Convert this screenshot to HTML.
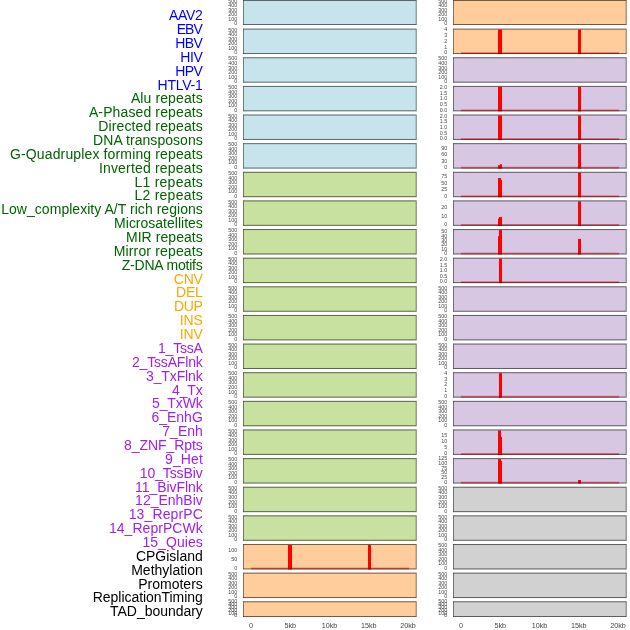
<!DOCTYPE html><html><head><meta charset="utf-8"><style>html,body{margin:0;padding:0;background:#fff;overflow:hidden}svg{display:block;will-change:transform}.lb{font-family:"Liberation Sans",Arial,sans-serif;font-size:14px;text-anchor:end}.tk{font-family:"Liberation Sans",Arial,sans-serif;font-size:5.4px;text-anchor:end;fill:#4a4a4a}.ax{font-family:"Liberation Sans",Arial,sans-serif;font-size:7.2px;text-anchor:middle;fill:#444}</style></head><body>
<svg width="630" height="630" viewBox="0 0 630 630">
<text class="lb" x="202.8" y="20" fill="#0000ff" textLength="33.80">AAV2</text>
<text class="lb" x="202.8" y="34" fill="#0000ff" textLength="26.10">EBV</text>
<text class="lb" x="202.8" y="48" fill="#0000ff" textLength="27.60">HBV</text>
<text class="lb" x="202.8" y="62" fill="#0000ff" textLength="22.50">HIV</text>
<text class="lb" x="202.8" y="76" fill="#0000ff" textLength="27.60">HPV</text>
<text class="lb" x="202.8" y="90" fill="#0000ff" textLength="45.30">HTLV-1</text>
<text class="lb" x="202.8" y="103" fill="#006400" textLength="71.90">Alu repeats</text>
<text class="lb" x="202.8" y="117" fill="#006400" textLength="113.90">A-Phased repeats</text>
<text class="lb" x="202.8" y="131" fill="#006400" textLength="104.60">Directed repeats</text>
<text class="lb" x="202.8" y="145" fill="#006400" textLength="109.70">DNA transposons</text>
<text class="lb" x="202.8" y="159" fill="#006400" textLength="192.80">G-Quadruplex forming repeats</text>
<text class="lb" x="202.8" y="173" fill="#006400" textLength="103.90">Inverted repeats</text>
<text class="lb" x="202.8" y="187" fill="#006400" textLength="68.30">L1 repeats</text>
<text class="lb" x="202.8" y="200" fill="#006400" textLength="68.30">L2 repeats</text>
<text class="lb" x="202.8" y="214" fill="#006400" textLength="201.60">Low_complexity A/T rich regions</text>
<text class="lb" x="202.8" y="228" fill="#006400" textLength="88.70">Microsatellites</text>
<text class="lb" x="202.8" y="242" fill="#006400" textLength="76.90">MIR repeats</text>
<text class="lb" x="202.8" y="256" fill="#006400" textLength="89.10">Mirror repeats</text>
<text class="lb" x="202.8" y="270" fill="#006400" textLength="81.10">Z-DNA motifs</text>
<text class="lb" x="202.8" y="284" fill="#ffa500" textLength="29.00">CNV</text>
<text class="lb" x="202.8" y="297" fill="#ffa500" textLength="26.80">DEL</text>
<text class="lb" x="202.8" y="311" fill="#ffa500" textLength="28.80">DUP</text>
<text class="lb" x="202.8" y="325" fill="#ffa500" textLength="23.00">INS</text>
<text class="lb" x="202.8" y="339" fill="#ffa500" textLength="23.00">INV</text>
<text class="lb" x="202.8" y="353" fill="#a020f0" textLength="44.80">1_TssA</text>
<text class="lb" x="202.8" y="367" fill="#a020f0" textLength="70.80">2_TssAFlnk</text>
<text class="lb" x="202.8" y="381" fill="#a020f0" textLength="56.80">3_TxFlnk</text>
<text class="lb" x="202.8" y="395" fill="#a020f0" textLength="30.80">4_Tx</text>
<text class="lb" x="202.8" y="408" fill="#a020f0" textLength="50.80">5_TxWk</text>
<text class="lb" x="202.8" y="422" fill="#a020f0" textLength="51.40">6_EnhG</text>
<text class="lb" x="202.8" y="436" fill="#a020f0" textLength="40.50">7_Enh</text>
<text class="lb" x="202.8" y="450" fill="#a020f0" textLength="78.80">8_ZNF_Rpts</text>
<text class="lb" x="202.8" y="464" fill="#a020f0" textLength="37.70">9_Het</text>
<text class="lb" x="202.8" y="478" fill="#a020f0" textLength="63.10">10_TssBiv</text>
<text class="lb" x="202.8" y="492" fill="#a020f0" textLength="67.80">11_BivFlnk</text>
<text class="lb" x="202.8" y="505" fill="#a020f0" textLength="67.70">12_EnhBiv</text>
<text class="lb" x="202.8" y="519" fill="#a020f0" textLength="74.10">13_ReprPC</text>
<text class="lb" x="202.8" y="533" fill="#a020f0" textLength="93.90">14_ReprPCWk</text>
<text class="lb" x="202.8" y="547" fill="#a020f0" textLength="60.40">15_Quies</text>
<text class="lb" x="202.8" y="561" fill="#000000" textLength="66.90">CPGisland</text>
<text class="lb" x="202.8" y="575" fill="#000000" textLength="71.60">Methylation</text>
<text class="lb" x="202.8" y="589" fill="#000000" textLength="64.60">Promoters</text>
<text class="lb" x="202.8" y="602" fill="#000000" textLength="110.00">ReplicationTiming</text>
<text class="lb" x="202.8" y="616" fill="#000000" textLength="92.70">TAD_boundary</text>
<rect x="243" y="0.00" width="173.7" height="25.00" fill="rgb(199,228,236)"/>
<rect x="243" y="0.00" width="173.7" height="1" fill="#000" fill-opacity="0.55"/>
<rect x="243" y="24.00" width="173.7" height="1" fill="#000" fill-opacity="0.55"/>
<rect x="243" y="1.00" width="1" height="23.00" fill="#000" fill-opacity="0.45"/>
<rect x="415.7" y="1.00" width="1" height="23.00" fill="#000" fill-opacity="0.45"/>
<rect x="243" y="0.00" width="1" height="1" fill="#000" fill-opacity="0.25"/>
<rect x="243" y="24.00" width="1" height="1" fill="#000" fill-opacity="0.25"/>
<text class="tk" x="237.2" y="25.40">0</text>
<text class="tk" x="237.2" y="20.88">100</text>
<text class="tk" x="237.2" y="16.36">200</text>
<text class="tk" x="237.2" y="11.84">300</text>
<text class="tk" x="237.2" y="7.32">400</text>
<text class="tk" x="237.2" y="2.80">500</text>
<rect x="243" y="28.63" width="173.7" height="25.40" fill="rgb(199,228,236)"/>
<rect x="243" y="28.63" width="173.7" height="1" fill="#000" fill-opacity="0.55"/>
<rect x="243" y="53.03" width="173.7" height="1" fill="#000" fill-opacity="0.55"/>
<rect x="243" y="29.63" width="1" height="23.40" fill="#000" fill-opacity="0.45"/>
<rect x="415.7" y="29.63" width="1" height="23.40" fill="#000" fill-opacity="0.45"/>
<rect x="243" y="28.63" width="1" height="1" fill="#000" fill-opacity="0.25"/>
<rect x="243" y="53.03" width="1" height="1" fill="#000" fill-opacity="0.25"/>
<text class="tk" x="237.2" y="54.43">0</text>
<text class="tk" x="237.2" y="49.91">100</text>
<text class="tk" x="237.2" y="45.39">200</text>
<text class="tk" x="237.2" y="40.87">300</text>
<text class="tk" x="237.2" y="36.35">400</text>
<text class="tk" x="237.2" y="31.83">500</text>
<rect x="243" y="57.26" width="173.7" height="25.40" fill="rgb(199,228,236)"/>
<rect x="243" y="57.26" width="173.7" height="1" fill="#000" fill-opacity="0.55"/>
<rect x="243" y="81.66" width="173.7" height="1" fill="#000" fill-opacity="0.55"/>
<rect x="243" y="58.26" width="1" height="23.40" fill="#000" fill-opacity="0.45"/>
<rect x="415.7" y="58.26" width="1" height="23.40" fill="#000" fill-opacity="0.45"/>
<rect x="243" y="57.26" width="1" height="1" fill="#000" fill-opacity="0.25"/>
<rect x="243" y="81.66" width="1" height="1" fill="#000" fill-opacity="0.25"/>
<text class="tk" x="237.2" y="83.06">0</text>
<text class="tk" x="237.2" y="78.54">100</text>
<text class="tk" x="237.2" y="74.02">200</text>
<text class="tk" x="237.2" y="69.50">300</text>
<text class="tk" x="237.2" y="64.98">400</text>
<text class="tk" x="237.2" y="60.46">500</text>
<rect x="243" y="85.90" width="173.7" height="25.40" fill="rgb(199,228,236)"/>
<rect x="243" y="85.90" width="173.7" height="1" fill="#000" fill-opacity="0.55"/>
<rect x="243" y="110.30" width="173.7" height="1" fill="#000" fill-opacity="0.55"/>
<rect x="243" y="86.90" width="1" height="23.40" fill="#000" fill-opacity="0.45"/>
<rect x="415.7" y="86.90" width="1" height="23.40" fill="#000" fill-opacity="0.45"/>
<rect x="243" y="85.90" width="1" height="1" fill="#000" fill-opacity="0.25"/>
<rect x="243" y="110.30" width="1" height="1" fill="#000" fill-opacity="0.25"/>
<text class="tk" x="237.2" y="111.70">0</text>
<text class="tk" x="237.2" y="107.18">100</text>
<text class="tk" x="237.2" y="102.66">200</text>
<text class="tk" x="237.2" y="98.14">300</text>
<text class="tk" x="237.2" y="93.62">400</text>
<text class="tk" x="237.2" y="89.10">500</text>
<rect x="243" y="114.53" width="173.7" height="25.40" fill="rgb(199,228,236)"/>
<rect x="243" y="114.53" width="173.7" height="1" fill="#000" fill-opacity="0.55"/>
<rect x="243" y="138.93" width="173.7" height="1" fill="#000" fill-opacity="0.55"/>
<rect x="243" y="115.53" width="1" height="23.40" fill="#000" fill-opacity="0.45"/>
<rect x="415.7" y="115.53" width="1" height="23.40" fill="#000" fill-opacity="0.45"/>
<rect x="243" y="114.53" width="1" height="1" fill="#000" fill-opacity="0.25"/>
<rect x="243" y="138.93" width="1" height="1" fill="#000" fill-opacity="0.25"/>
<text class="tk" x="237.2" y="140.33">0</text>
<text class="tk" x="237.2" y="135.81">100</text>
<text class="tk" x="237.2" y="131.29">200</text>
<text class="tk" x="237.2" y="126.77">300</text>
<text class="tk" x="237.2" y="122.25">400</text>
<text class="tk" x="237.2" y="117.73">500</text>
<rect x="243" y="143.16" width="173.7" height="25.40" fill="rgb(199,228,236)"/>
<rect x="243" y="143.16" width="173.7" height="1" fill="#000" fill-opacity="0.55"/>
<rect x="243" y="167.56" width="173.7" height="1" fill="#000" fill-opacity="0.55"/>
<rect x="243" y="144.16" width="1" height="23.40" fill="#000" fill-opacity="0.45"/>
<rect x="415.7" y="144.16" width="1" height="23.40" fill="#000" fill-opacity="0.45"/>
<rect x="243" y="143.16" width="1" height="1" fill="#000" fill-opacity="0.25"/>
<rect x="243" y="167.56" width="1" height="1" fill="#000" fill-opacity="0.25"/>
<text class="tk" x="237.2" y="168.96">0</text>
<text class="tk" x="237.2" y="164.44">100</text>
<text class="tk" x="237.2" y="159.92">200</text>
<text class="tk" x="237.2" y="155.40">300</text>
<text class="tk" x="237.2" y="150.88">400</text>
<text class="tk" x="237.2" y="146.36">500</text>
<rect x="243" y="171.79" width="173.7" height="25.40" fill="rgb(200,225,161)"/>
<rect x="243" y="171.79" width="173.7" height="1" fill="#000" fill-opacity="0.55"/>
<rect x="243" y="196.19" width="173.7" height="1" fill="#000" fill-opacity="0.55"/>
<rect x="243" y="172.79" width="1" height="23.40" fill="#000" fill-opacity="0.45"/>
<rect x="415.7" y="172.79" width="1" height="23.40" fill="#000" fill-opacity="0.45"/>
<rect x="243" y="171.79" width="1" height="1" fill="#000" fill-opacity="0.25"/>
<rect x="243" y="196.19" width="1" height="1" fill="#000" fill-opacity="0.25"/>
<text class="tk" x="237.2" y="197.59">0</text>
<text class="tk" x="237.2" y="193.07">100</text>
<text class="tk" x="237.2" y="188.55">200</text>
<text class="tk" x="237.2" y="184.03">300</text>
<text class="tk" x="237.2" y="179.51">400</text>
<text class="tk" x="237.2" y="174.99">500</text>
<rect x="243" y="200.42" width="173.7" height="25.40" fill="rgb(200,225,161)"/>
<rect x="243" y="200.42" width="173.7" height="1" fill="#000" fill-opacity="0.55"/>
<rect x="243" y="224.82" width="173.7" height="1" fill="#000" fill-opacity="0.55"/>
<rect x="243" y="201.42" width="1" height="23.40" fill="#000" fill-opacity="0.45"/>
<rect x="415.7" y="201.42" width="1" height="23.40" fill="#000" fill-opacity="0.45"/>
<rect x="243" y="200.42" width="1" height="1" fill="#000" fill-opacity="0.25"/>
<rect x="243" y="224.82" width="1" height="1" fill="#000" fill-opacity="0.25"/>
<text class="tk" x="237.2" y="226.22">0</text>
<text class="tk" x="237.2" y="221.70">100</text>
<text class="tk" x="237.2" y="217.18">200</text>
<text class="tk" x="237.2" y="212.66">300</text>
<text class="tk" x="237.2" y="208.14">400</text>
<text class="tk" x="237.2" y="203.62">500</text>
<rect x="243" y="229.06" width="173.7" height="25.40" fill="rgb(200,225,161)"/>
<rect x="243" y="229.06" width="173.7" height="1" fill="#000" fill-opacity="0.55"/>
<rect x="243" y="253.46" width="173.7" height="1" fill="#000" fill-opacity="0.55"/>
<rect x="243" y="230.06" width="1" height="23.40" fill="#000" fill-opacity="0.45"/>
<rect x="415.7" y="230.06" width="1" height="23.40" fill="#000" fill-opacity="0.45"/>
<rect x="243" y="229.06" width="1" height="1" fill="#000" fill-opacity="0.25"/>
<rect x="243" y="253.46" width="1" height="1" fill="#000" fill-opacity="0.25"/>
<text class="tk" x="237.2" y="254.86">0</text>
<text class="tk" x="237.2" y="250.34">100</text>
<text class="tk" x="237.2" y="245.82">200</text>
<text class="tk" x="237.2" y="241.30">300</text>
<text class="tk" x="237.2" y="236.78">400</text>
<text class="tk" x="237.2" y="232.26">500</text>
<rect x="243" y="257.69" width="173.7" height="25.40" fill="rgb(200,225,161)"/>
<rect x="243" y="257.69" width="173.7" height="1" fill="#000" fill-opacity="0.55"/>
<rect x="243" y="282.09" width="173.7" height="1" fill="#000" fill-opacity="0.55"/>
<rect x="243" y="258.69" width="1" height="23.40" fill="#000" fill-opacity="0.45"/>
<rect x="415.7" y="258.69" width="1" height="23.40" fill="#000" fill-opacity="0.45"/>
<rect x="243" y="257.69" width="1" height="1" fill="#000" fill-opacity="0.25"/>
<rect x="243" y="282.09" width="1" height="1" fill="#000" fill-opacity="0.25"/>
<text class="tk" x="237.2" y="283.49">0</text>
<text class="tk" x="237.2" y="278.97">100</text>
<text class="tk" x="237.2" y="274.45">200</text>
<text class="tk" x="237.2" y="269.93">300</text>
<text class="tk" x="237.2" y="265.41">400</text>
<text class="tk" x="237.2" y="260.89">500</text>
<rect x="243" y="286.32" width="173.7" height="25.40" fill="rgb(200,225,161)"/>
<rect x="243" y="286.32" width="173.7" height="1" fill="#000" fill-opacity="0.55"/>
<rect x="243" y="310.72" width="173.7" height="1" fill="#000" fill-opacity="0.55"/>
<rect x="243" y="287.32" width="1" height="23.40" fill="#000" fill-opacity="0.45"/>
<rect x="415.7" y="287.32" width="1" height="23.40" fill="#000" fill-opacity="0.45"/>
<rect x="243" y="286.32" width="1" height="1" fill="#000" fill-opacity="0.25"/>
<rect x="243" y="310.72" width="1" height="1" fill="#000" fill-opacity="0.25"/>
<text class="tk" x="237.2" y="312.12">0</text>
<text class="tk" x="237.2" y="307.60">100</text>
<text class="tk" x="237.2" y="303.08">200</text>
<text class="tk" x="237.2" y="298.56">300</text>
<text class="tk" x="237.2" y="294.04">400</text>
<text class="tk" x="237.2" y="289.52">500</text>
<rect x="243" y="314.95" width="173.7" height="25.40" fill="rgb(200,225,161)"/>
<rect x="243" y="314.95" width="173.7" height="1" fill="#000" fill-opacity="0.55"/>
<rect x="243" y="339.35" width="173.7" height="1" fill="#000" fill-opacity="0.55"/>
<rect x="243" y="315.95" width="1" height="23.40" fill="#000" fill-opacity="0.45"/>
<rect x="415.7" y="315.95" width="1" height="23.40" fill="#000" fill-opacity="0.45"/>
<rect x="243" y="314.95" width="1" height="1" fill="#000" fill-opacity="0.25"/>
<rect x="243" y="339.35" width="1" height="1" fill="#000" fill-opacity="0.25"/>
<text class="tk" x="237.2" y="340.75">0</text>
<text class="tk" x="237.2" y="336.23">100</text>
<text class="tk" x="237.2" y="331.71">200</text>
<text class="tk" x="237.2" y="327.19">300</text>
<text class="tk" x="237.2" y="322.67">400</text>
<text class="tk" x="237.2" y="318.15">500</text>
<rect x="243" y="343.58" width="173.7" height="25.40" fill="rgb(200,225,161)"/>
<rect x="243" y="343.58" width="173.7" height="1" fill="#000" fill-opacity="0.55"/>
<rect x="243" y="367.98" width="173.7" height="1" fill="#000" fill-opacity="0.55"/>
<rect x="243" y="344.58" width="1" height="23.40" fill="#000" fill-opacity="0.45"/>
<rect x="415.7" y="344.58" width="1" height="23.40" fill="#000" fill-opacity="0.45"/>
<rect x="243" y="343.58" width="1" height="1" fill="#000" fill-opacity="0.25"/>
<rect x="243" y="367.98" width="1" height="1" fill="#000" fill-opacity="0.25"/>
<text class="tk" x="237.2" y="369.38">0</text>
<text class="tk" x="237.2" y="364.86">100</text>
<text class="tk" x="237.2" y="360.34">200</text>
<text class="tk" x="237.2" y="355.82">300</text>
<text class="tk" x="237.2" y="351.30">400</text>
<text class="tk" x="237.2" y="346.78">500</text>
<rect x="243" y="372.22" width="173.7" height="25.40" fill="rgb(200,225,161)"/>
<rect x="243" y="372.22" width="173.7" height="1" fill="#000" fill-opacity="0.55"/>
<rect x="243" y="396.62" width="173.7" height="1" fill="#000" fill-opacity="0.55"/>
<rect x="243" y="373.22" width="1" height="23.40" fill="#000" fill-opacity="0.45"/>
<rect x="415.7" y="373.22" width="1" height="23.40" fill="#000" fill-opacity="0.45"/>
<rect x="243" y="372.22" width="1" height="1" fill="#000" fill-opacity="0.25"/>
<rect x="243" y="396.62" width="1" height="1" fill="#000" fill-opacity="0.25"/>
<text class="tk" x="237.2" y="398.02">0</text>
<text class="tk" x="237.2" y="393.50">100</text>
<text class="tk" x="237.2" y="388.98">200</text>
<text class="tk" x="237.2" y="384.46">300</text>
<text class="tk" x="237.2" y="379.94">400</text>
<text class="tk" x="237.2" y="375.42">500</text>
<rect x="243" y="400.85" width="173.7" height="25.40" fill="rgb(200,225,161)"/>
<rect x="243" y="400.85" width="173.7" height="1" fill="#000" fill-opacity="0.55"/>
<rect x="243" y="425.25" width="173.7" height="1" fill="#000" fill-opacity="0.55"/>
<rect x="243" y="401.85" width="1" height="23.40" fill="#000" fill-opacity="0.45"/>
<rect x="415.7" y="401.85" width="1" height="23.40" fill="#000" fill-opacity="0.45"/>
<rect x="243" y="400.85" width="1" height="1" fill="#000" fill-opacity="0.25"/>
<rect x="243" y="425.25" width="1" height="1" fill="#000" fill-opacity="0.25"/>
<text class="tk" x="237.2" y="426.65">0</text>
<text class="tk" x="237.2" y="422.13">100</text>
<text class="tk" x="237.2" y="417.61">200</text>
<text class="tk" x="237.2" y="413.09">300</text>
<text class="tk" x="237.2" y="408.57">400</text>
<text class="tk" x="237.2" y="404.05">500</text>
<rect x="243" y="429.48" width="173.7" height="25.40" fill="rgb(200,225,161)"/>
<rect x="243" y="429.48" width="173.7" height="1" fill="#000" fill-opacity="0.55"/>
<rect x="243" y="453.88" width="173.7" height="1" fill="#000" fill-opacity="0.55"/>
<rect x="243" y="430.48" width="1" height="23.40" fill="#000" fill-opacity="0.45"/>
<rect x="415.7" y="430.48" width="1" height="23.40" fill="#000" fill-opacity="0.45"/>
<rect x="243" y="429.48" width="1" height="1" fill="#000" fill-opacity="0.25"/>
<rect x="243" y="453.88" width="1" height="1" fill="#000" fill-opacity="0.25"/>
<text class="tk" x="237.2" y="455.28">0</text>
<text class="tk" x="237.2" y="450.76">100</text>
<text class="tk" x="237.2" y="446.24">200</text>
<text class="tk" x="237.2" y="441.72">300</text>
<text class="tk" x="237.2" y="437.20">400</text>
<text class="tk" x="237.2" y="432.68">500</text>
<rect x="243" y="458.11" width="173.7" height="25.40" fill="rgb(200,225,161)"/>
<rect x="243" y="458.11" width="173.7" height="1" fill="#000" fill-opacity="0.55"/>
<rect x="243" y="482.51" width="173.7" height="1" fill="#000" fill-opacity="0.55"/>
<rect x="243" y="459.11" width="1" height="23.40" fill="#000" fill-opacity="0.45"/>
<rect x="415.7" y="459.11" width="1" height="23.40" fill="#000" fill-opacity="0.45"/>
<rect x="243" y="458.11" width="1" height="1" fill="#000" fill-opacity="0.25"/>
<rect x="243" y="482.51" width="1" height="1" fill="#000" fill-opacity="0.25"/>
<text class="tk" x="237.2" y="483.91">0</text>
<text class="tk" x="237.2" y="479.39">100</text>
<text class="tk" x="237.2" y="474.87">200</text>
<text class="tk" x="237.2" y="470.35">300</text>
<text class="tk" x="237.2" y="465.83">400</text>
<text class="tk" x="237.2" y="461.31">500</text>
<rect x="243" y="486.74" width="173.7" height="25.40" fill="rgb(200,225,161)"/>
<rect x="243" y="486.74" width="173.7" height="1" fill="#000" fill-opacity="0.55"/>
<rect x="243" y="511.14" width="173.7" height="1" fill="#000" fill-opacity="0.55"/>
<rect x="243" y="487.74" width="1" height="23.40" fill="#000" fill-opacity="0.45"/>
<rect x="415.7" y="487.74" width="1" height="23.40" fill="#000" fill-opacity="0.45"/>
<rect x="243" y="486.74" width="1" height="1" fill="#000" fill-opacity="0.25"/>
<rect x="243" y="511.14" width="1" height="1" fill="#000" fill-opacity="0.25"/>
<text class="tk" x="237.2" y="512.54">0</text>
<text class="tk" x="237.2" y="508.02">100</text>
<text class="tk" x="237.2" y="503.50">200</text>
<text class="tk" x="237.2" y="498.98">300</text>
<text class="tk" x="237.2" y="494.46">400</text>
<text class="tk" x="237.2" y="489.94">500</text>
<rect x="243" y="515.38" width="173.7" height="25.40" fill="rgb(200,225,161)"/>
<rect x="243" y="515.38" width="173.7" height="1" fill="#000" fill-opacity="0.55"/>
<rect x="243" y="539.78" width="173.7" height="1" fill="#000" fill-opacity="0.55"/>
<rect x="243" y="516.38" width="1" height="23.40" fill="#000" fill-opacity="0.45"/>
<rect x="415.7" y="516.38" width="1" height="23.40" fill="#000" fill-opacity="0.45"/>
<rect x="243" y="515.38" width="1" height="1" fill="#000" fill-opacity="0.25"/>
<rect x="243" y="539.78" width="1" height="1" fill="#000" fill-opacity="0.25"/>
<text class="tk" x="237.2" y="541.18">0</text>
<text class="tk" x="237.2" y="536.66">100</text>
<text class="tk" x="237.2" y="532.14">200</text>
<text class="tk" x="237.2" y="527.62">300</text>
<text class="tk" x="237.2" y="523.10">400</text>
<text class="tk" x="237.2" y="518.58">500</text>
<rect x="243" y="544.01" width="173.7" height="25.40" fill="rgb(254,205,155)"/>
<rect x="288" y="545.01" width="4" height="24.40" fill="#ff0000"/>
<rect x="368" y="545.01" width="3" height="24.40" fill="#ff0000"/>
<rect x="251" y="567.61" width="158" height="1.8" fill="#ff0000" fill-opacity="0.5"/>
<rect x="243" y="544.01" width="173.7" height="1" fill="#000" fill-opacity="0.55"/>
<rect x="243" y="568.41" width="173.7" height="1" fill="#000" fill-opacity="0.55"/>
<rect x="243" y="545.01" width="1" height="23.40" fill="#000" fill-opacity="0.45"/>
<rect x="415.7" y="545.01" width="1" height="23.40" fill="#000" fill-opacity="0.45"/>
<rect x="243" y="544.01" width="1" height="1" fill="#000" fill-opacity="0.25"/>
<rect x="243" y="568.41" width="1" height="1" fill="#000" fill-opacity="0.25"/>
<text class="tk" x="237.2" y="569.81">0</text>
<text class="tk" x="237.2" y="560.96">50</text>
<text class="tk" x="237.2" y="552.11">100</text>
<rect x="243" y="572.64" width="173.7" height="25.40" fill="rgb(254,205,155)"/>
<rect x="243" y="572.64" width="173.7" height="1" fill="#000" fill-opacity="0.55"/>
<rect x="243" y="597.04" width="173.7" height="1" fill="#000" fill-opacity="0.55"/>
<rect x="243" y="573.64" width="1" height="23.40" fill="#000" fill-opacity="0.45"/>
<rect x="415.7" y="573.64" width="1" height="23.40" fill="#000" fill-opacity="0.45"/>
<rect x="243" y="572.64" width="1" height="1" fill="#000" fill-opacity="0.25"/>
<rect x="243" y="597.04" width="1" height="1" fill="#000" fill-opacity="0.25"/>
<text class="tk" x="237.2" y="598.44">0</text>
<text class="tk" x="237.2" y="593.92">100</text>
<text class="tk" x="237.2" y="589.40">200</text>
<text class="tk" x="237.2" y="584.88">300</text>
<text class="tk" x="237.2" y="580.36">400</text>
<text class="tk" x="237.2" y="575.84">500</text>
<rect x="243" y="601.27" width="173.7" height="15.73" fill="rgb(254,205,155)"/>
<rect x="243" y="601.27" width="173.7" height="1" fill="#000" fill-opacity="0.55"/>
<rect x="243" y="616.00" width="173.7" height="1" fill="#000" fill-opacity="0.55"/>
<rect x="243" y="602.27" width="1" height="13.73" fill="#000" fill-opacity="0.45"/>
<rect x="415.7" y="602.27" width="1" height="13.73" fill="#000" fill-opacity="0.45"/>
<rect x="243" y="601.27" width="1" height="1" fill="#000" fill-opacity="0.25"/>
<rect x="243" y="616.00" width="1" height="1" fill="#000" fill-opacity="0.25"/>
<text class="tk" x="237.2" y="617.40">0</text>
<text class="tk" x="237.2" y="614.50">100</text>
<text class="tk" x="237.2" y="611.60">200</text>
<text class="tk" x="237.2" y="608.70">300</text>
<text class="tk" x="237.2" y="605.80">400</text>
<text class="tk" x="237.2" y="602.90">500</text>
<text class="ax" x="251.00" y="628">0</text>
<text class="ax" x="290.25" y="628">5kb</text>
<text class="ax" x="329.50" y="628">10kb</text>
<text class="ax" x="368.75" y="628">15kb</text>
<text class="ax" x="408.00" y="628">20kb</text>
<rect x="453" y="0.00" width="173.7" height="25.00" fill="rgb(254,205,155)"/>
<rect x="453" y="0.00" width="173.7" height="1" fill="#000" fill-opacity="0.55"/>
<rect x="453" y="24.00" width="173.7" height="1" fill="#000" fill-opacity="0.55"/>
<rect x="453" y="1.00" width="1" height="23.00" fill="#000" fill-opacity="0.45"/>
<rect x="625.7" y="1.00" width="1" height="23.00" fill="#000" fill-opacity="0.45"/>
<rect x="453" y="0.00" width="1" height="1" fill="#000" fill-opacity="0.25"/>
<rect x="453" y="24.00" width="1" height="1" fill="#000" fill-opacity="0.25"/>
<text class="tk" x="447.2" y="25.40">0</text>
<text class="tk" x="447.2" y="20.88">100</text>
<text class="tk" x="447.2" y="16.36">200</text>
<text class="tk" x="447.2" y="11.84">300</text>
<text class="tk" x="447.2" y="7.32">400</text>
<text class="tk" x="447.2" y="2.80">500</text>
<rect x="453" y="28.63" width="173.7" height="25.40" fill="rgb(254,205,155)"/>
<rect x="498" y="29.63" width="4" height="24.40" fill="#ff0000"/>
<rect x="578" y="29.63" width="3" height="24.40" fill="#ff0000"/>
<rect x="461" y="52.23" width="158" height="1.8" fill="#ff0000" fill-opacity="0.5"/>
<rect x="453" y="28.63" width="173.7" height="1" fill="#000" fill-opacity="0.55"/>
<rect x="453" y="53.03" width="173.7" height="1" fill="#000" fill-opacity="0.55"/>
<rect x="453" y="29.63" width="1" height="23.40" fill="#000" fill-opacity="0.45"/>
<rect x="625.7" y="29.63" width="1" height="23.40" fill="#000" fill-opacity="0.45"/>
<rect x="453" y="28.63" width="1" height="1" fill="#000" fill-opacity="0.25"/>
<rect x="453" y="53.03" width="1" height="1" fill="#000" fill-opacity="0.25"/>
<text class="tk" x="447.2" y="54.43">0</text>
<text class="tk" x="447.2" y="48.66">1</text>
<text class="tk" x="447.2" y="42.88">2</text>
<text class="tk" x="447.2" y="37.11">3</text>
<text class="tk" x="447.2" y="31.33">4</text>
<rect x="453" y="57.26" width="173.7" height="25.40" fill="rgb(215,199,226)"/>
<rect x="453" y="57.26" width="173.7" height="1" fill="#000" fill-opacity="0.55"/>
<rect x="453" y="81.66" width="173.7" height="1" fill="#000" fill-opacity="0.55"/>
<rect x="453" y="58.26" width="1" height="23.40" fill="#000" fill-opacity="0.45"/>
<rect x="625.7" y="58.26" width="1" height="23.40" fill="#000" fill-opacity="0.45"/>
<rect x="453" y="57.26" width="1" height="1" fill="#000" fill-opacity="0.25"/>
<rect x="453" y="81.66" width="1" height="1" fill="#000" fill-opacity="0.25"/>
<text class="tk" x="447.2" y="83.06">0</text>
<text class="tk" x="447.2" y="78.54">100</text>
<text class="tk" x="447.2" y="74.02">200</text>
<text class="tk" x="447.2" y="69.50">300</text>
<text class="tk" x="447.2" y="64.98">400</text>
<text class="tk" x="447.2" y="60.46">500</text>
<rect x="453" y="85.90" width="173.7" height="25.40" fill="rgb(215,199,226)"/>
<rect x="498" y="86.90" width="4" height="24.40" fill="#ff0000"/>
<rect x="578" y="86.90" width="3" height="24.40" fill="#ff0000"/>
<rect x="461" y="109.50" width="158" height="1.8" fill="#ff0000" fill-opacity="0.5"/>
<rect x="453" y="85.90" width="173.7" height="1" fill="#000" fill-opacity="0.55"/>
<rect x="453" y="110.30" width="173.7" height="1" fill="#000" fill-opacity="0.55"/>
<rect x="453" y="86.90" width="1" height="23.40" fill="#000" fill-opacity="0.45"/>
<rect x="625.7" y="86.90" width="1" height="23.40" fill="#000" fill-opacity="0.45"/>
<rect x="453" y="85.90" width="1" height="1" fill="#000" fill-opacity="0.25"/>
<rect x="453" y="110.30" width="1" height="1" fill="#000" fill-opacity="0.25"/>
<text class="tk" x="447.2" y="111.70">0.0</text>
<text class="tk" x="447.2" y="106.07">0.5</text>
<text class="tk" x="447.2" y="100.45">1.0</text>
<text class="tk" x="447.2" y="94.82">1.5</text>
<text class="tk" x="447.2" y="89.20">2.0</text>
<rect x="453" y="114.53" width="173.7" height="25.40" fill="rgb(215,199,226)"/>
<rect x="498" y="115.53" width="4" height="24.40" fill="#ff0000"/>
<rect x="578" y="115.53" width="3" height="24.40" fill="#ff0000"/>
<rect x="461" y="138.13" width="158" height="1.8" fill="#ff0000" fill-opacity="0.5"/>
<rect x="453" y="114.53" width="173.7" height="1" fill="#000" fill-opacity="0.55"/>
<rect x="453" y="138.93" width="173.7" height="1" fill="#000" fill-opacity="0.55"/>
<rect x="453" y="115.53" width="1" height="23.40" fill="#000" fill-opacity="0.45"/>
<rect x="625.7" y="115.53" width="1" height="23.40" fill="#000" fill-opacity="0.45"/>
<rect x="453" y="114.53" width="1" height="1" fill="#000" fill-opacity="0.25"/>
<rect x="453" y="138.93" width="1" height="1" fill="#000" fill-opacity="0.25"/>
<text class="tk" x="447.2" y="140.33">0.0</text>
<text class="tk" x="447.2" y="134.70">0.5</text>
<text class="tk" x="447.2" y="129.08">1.0</text>
<text class="tk" x="447.2" y="123.45">1.5</text>
<text class="tk" x="447.2" y="117.83">2.0</text>
<rect x="453" y="143.16" width="173.7" height="25.40" fill="rgb(215,199,226)"/>
<rect x="498" y="165.20" width="2" height="3.36" fill="#ff0000"/>
<rect x="500" y="164.20" width="2" height="4.36" fill="#ff0000"/>
<rect x="578" y="144.16" width="3" height="24.40" fill="#ff0000"/>
<rect x="461" y="166.76" width="158" height="1.8" fill="#ff0000" fill-opacity="0.5"/>
<rect x="453" y="143.16" width="173.7" height="1" fill="#000" fill-opacity="0.55"/>
<rect x="453" y="167.56" width="173.7" height="1" fill="#000" fill-opacity="0.55"/>
<rect x="453" y="144.16" width="1" height="23.40" fill="#000" fill-opacity="0.45"/>
<rect x="625.7" y="144.16" width="1" height="23.40" fill="#000" fill-opacity="0.45"/>
<rect x="453" y="143.16" width="1" height="1" fill="#000" fill-opacity="0.25"/>
<rect x="453" y="167.56" width="1" height="1" fill="#000" fill-opacity="0.25"/>
<text class="tk" x="447.2" y="168.96">0</text>
<text class="tk" x="447.2" y="162.63">30</text>
<text class="tk" x="447.2" y="156.29">60</text>
<text class="tk" x="447.2" y="149.96">90</text>
<rect x="453" y="171.79" width="173.7" height="25.40" fill="rgb(215,199,226)"/>
<rect x="498" y="178.00" width="3" height="19.19" fill="#ff0000"/>
<rect x="501" y="180.00" width="1" height="17.19" fill="#ff0000"/>
<rect x="578" y="172.79" width="3" height="24.40" fill="#ff0000"/>
<rect x="461" y="195.39" width="158" height="1.8" fill="#ff0000" fill-opacity="0.5"/>
<rect x="453" y="171.79" width="173.7" height="1" fill="#000" fill-opacity="0.55"/>
<rect x="453" y="196.19" width="173.7" height="1" fill="#000" fill-opacity="0.55"/>
<rect x="453" y="172.79" width="1" height="23.40" fill="#000" fill-opacity="0.45"/>
<rect x="625.7" y="172.79" width="1" height="23.40" fill="#000" fill-opacity="0.45"/>
<rect x="453" y="171.79" width="1" height="1" fill="#000" fill-opacity="0.25"/>
<rect x="453" y="196.19" width="1" height="1" fill="#000" fill-opacity="0.25"/>
<text class="tk" x="447.2" y="197.59">0</text>
<text class="tk" x="447.2" y="191.23">25</text>
<text class="tk" x="447.2" y="184.86">50</text>
<text class="tk" x="447.2" y="178.49">75</text>
<rect x="453" y="200.42" width="173.7" height="25.40" fill="rgb(215,199,226)"/>
<rect x="498" y="218.50" width="1" height="7.32" fill="#ff0000"/>
<rect x="499" y="217.00" width="3" height="8.82" fill="#ff0000"/>
<rect x="578" y="201.42" width="3" height="24.40" fill="#ff0000"/>
<rect x="461" y="224.02" width="158" height="1.8" fill="#ff0000" fill-opacity="0.5"/>
<rect x="453" y="200.42" width="173.7" height="1" fill="#000" fill-opacity="0.55"/>
<rect x="453" y="224.82" width="173.7" height="1" fill="#000" fill-opacity="0.55"/>
<rect x="453" y="201.42" width="1" height="23.40" fill="#000" fill-opacity="0.45"/>
<rect x="625.7" y="201.42" width="1" height="23.40" fill="#000" fill-opacity="0.45"/>
<rect x="453" y="200.42" width="1" height="1" fill="#000" fill-opacity="0.25"/>
<rect x="453" y="224.82" width="1" height="1" fill="#000" fill-opacity="0.25"/>
<text class="tk" x="447.2" y="226.22">0</text>
<text class="tk" x="447.2" y="217.72">10</text>
<text class="tk" x="447.2" y="209.22">20</text>
<rect x="453" y="229.06" width="173.7" height="25.40" fill="rgb(215,199,226)"/>
<rect x="498" y="236.20" width="1" height="18.26" fill="#ff0000"/>
<rect x="499" y="230.06" width="3" height="24.40" fill="#ff0000"/>
<rect x="578" y="238.90" width="3" height="15.56" fill="#ff0000"/>
<rect x="461" y="252.66" width="158" height="1.8" fill="#ff0000" fill-opacity="0.5"/>
<rect x="453" y="229.06" width="173.7" height="1" fill="#000" fill-opacity="0.55"/>
<rect x="453" y="253.46" width="173.7" height="1" fill="#000" fill-opacity="0.55"/>
<rect x="453" y="230.06" width="1" height="23.40" fill="#000" fill-opacity="0.45"/>
<rect x="625.7" y="230.06" width="1" height="23.40" fill="#000" fill-opacity="0.45"/>
<rect x="453" y="229.06" width="1" height="1" fill="#000" fill-opacity="0.25"/>
<rect x="453" y="253.46" width="1" height="1" fill="#000" fill-opacity="0.25"/>
<text class="tk" x="447.2" y="254.86">0</text>
<text class="tk" x="447.2" y="250.54">10</text>
<text class="tk" x="447.2" y="246.22">20</text>
<text class="tk" x="447.2" y="241.90">30</text>
<text class="tk" x="447.2" y="237.58">40</text>
<text class="tk" x="447.2" y="233.26">50</text>
<rect x="453" y="257.69" width="173.7" height="25.40" fill="rgb(215,199,226)"/>
<rect x="499" y="258.69" width="3" height="24.40" fill="#ff0000"/>
<rect x="461" y="281.29" width="158" height="1.8" fill="#ff0000" fill-opacity="0.5"/>
<rect x="453" y="257.69" width="173.7" height="1" fill="#000" fill-opacity="0.55"/>
<rect x="453" y="282.09" width="173.7" height="1" fill="#000" fill-opacity="0.55"/>
<rect x="453" y="258.69" width="1" height="23.40" fill="#000" fill-opacity="0.45"/>
<rect x="625.7" y="258.69" width="1" height="23.40" fill="#000" fill-opacity="0.45"/>
<rect x="453" y="257.69" width="1" height="1" fill="#000" fill-opacity="0.25"/>
<rect x="453" y="282.09" width="1" height="1" fill="#000" fill-opacity="0.25"/>
<text class="tk" x="447.2" y="283.49">0.0</text>
<text class="tk" x="447.2" y="277.86">0.5</text>
<text class="tk" x="447.2" y="272.24">1.0</text>
<text class="tk" x="447.2" y="266.61">1.5</text>
<text class="tk" x="447.2" y="260.99">2.0</text>
<rect x="453" y="286.32" width="173.7" height="25.40" fill="rgb(215,199,226)"/>
<rect x="453" y="286.32" width="173.7" height="1" fill="#000" fill-opacity="0.55"/>
<rect x="453" y="310.72" width="173.7" height="1" fill="#000" fill-opacity="0.55"/>
<rect x="453" y="287.32" width="1" height="23.40" fill="#000" fill-opacity="0.45"/>
<rect x="625.7" y="287.32" width="1" height="23.40" fill="#000" fill-opacity="0.45"/>
<rect x="453" y="286.32" width="1" height="1" fill="#000" fill-opacity="0.25"/>
<rect x="453" y="310.72" width="1" height="1" fill="#000" fill-opacity="0.25"/>
<text class="tk" x="447.2" y="312.12">0</text>
<text class="tk" x="447.2" y="307.60">100</text>
<text class="tk" x="447.2" y="303.08">200</text>
<text class="tk" x="447.2" y="298.56">300</text>
<text class="tk" x="447.2" y="294.04">400</text>
<text class="tk" x="447.2" y="289.52">500</text>
<rect x="453" y="314.95" width="173.7" height="25.40" fill="rgb(215,199,226)"/>
<rect x="453" y="314.95" width="173.7" height="1" fill="#000" fill-opacity="0.55"/>
<rect x="453" y="339.35" width="173.7" height="1" fill="#000" fill-opacity="0.55"/>
<rect x="453" y="315.95" width="1" height="23.40" fill="#000" fill-opacity="0.45"/>
<rect x="625.7" y="315.95" width="1" height="23.40" fill="#000" fill-opacity="0.45"/>
<rect x="453" y="314.95" width="1" height="1" fill="#000" fill-opacity="0.25"/>
<rect x="453" y="339.35" width="1" height="1" fill="#000" fill-opacity="0.25"/>
<text class="tk" x="447.2" y="340.75">0</text>
<text class="tk" x="447.2" y="336.23">100</text>
<text class="tk" x="447.2" y="331.71">200</text>
<text class="tk" x="447.2" y="327.19">300</text>
<text class="tk" x="447.2" y="322.67">400</text>
<text class="tk" x="447.2" y="318.15">500</text>
<rect x="453" y="343.58" width="173.7" height="25.40" fill="rgb(215,199,226)"/>
<rect x="453" y="343.58" width="173.7" height="1" fill="#000" fill-opacity="0.55"/>
<rect x="453" y="367.98" width="173.7" height="1" fill="#000" fill-opacity="0.55"/>
<rect x="453" y="344.58" width="1" height="23.40" fill="#000" fill-opacity="0.45"/>
<rect x="625.7" y="344.58" width="1" height="23.40" fill="#000" fill-opacity="0.45"/>
<rect x="453" y="343.58" width="1" height="1" fill="#000" fill-opacity="0.25"/>
<rect x="453" y="367.98" width="1" height="1" fill="#000" fill-opacity="0.25"/>
<text class="tk" x="447.2" y="369.38">0</text>
<text class="tk" x="447.2" y="364.86">100</text>
<text class="tk" x="447.2" y="360.34">200</text>
<text class="tk" x="447.2" y="355.82">300</text>
<text class="tk" x="447.2" y="351.30">400</text>
<text class="tk" x="447.2" y="346.78">500</text>
<rect x="453" y="372.22" width="173.7" height="25.40" fill="rgb(215,199,226)"/>
<rect x="499" y="373.22" width="3" height="24.40" fill="#ff0000"/>
<rect x="461" y="395.82" width="158" height="1.8" fill="#ff0000" fill-opacity="0.5"/>
<rect x="453" y="372.22" width="173.7" height="1" fill="#000" fill-opacity="0.55"/>
<rect x="453" y="396.62" width="173.7" height="1" fill="#000" fill-opacity="0.55"/>
<rect x="453" y="373.22" width="1" height="23.40" fill="#000" fill-opacity="0.45"/>
<rect x="625.7" y="373.22" width="1" height="23.40" fill="#000" fill-opacity="0.45"/>
<rect x="453" y="372.22" width="1" height="1" fill="#000" fill-opacity="0.25"/>
<rect x="453" y="396.62" width="1" height="1" fill="#000" fill-opacity="0.25"/>
<text class="tk" x="447.2" y="398.02">0</text>
<text class="tk" x="447.2" y="392.22">1</text>
<text class="tk" x="447.2" y="386.42">2</text>
<text class="tk" x="447.2" y="380.62">3</text>
<text class="tk" x="447.2" y="374.82">4</text>
<rect x="453" y="400.85" width="173.7" height="25.40" fill="rgb(215,199,226)"/>
<rect x="453" y="400.85" width="173.7" height="1" fill="#000" fill-opacity="0.55"/>
<rect x="453" y="425.25" width="173.7" height="1" fill="#000" fill-opacity="0.55"/>
<rect x="453" y="401.85" width="1" height="23.40" fill="#000" fill-opacity="0.45"/>
<rect x="625.7" y="401.85" width="1" height="23.40" fill="#000" fill-opacity="0.45"/>
<rect x="453" y="400.85" width="1" height="1" fill="#000" fill-opacity="0.25"/>
<rect x="453" y="425.25" width="1" height="1" fill="#000" fill-opacity="0.25"/>
<text class="tk" x="447.2" y="426.65">0</text>
<text class="tk" x="447.2" y="422.13">100</text>
<text class="tk" x="447.2" y="417.61">200</text>
<text class="tk" x="447.2" y="413.09">300</text>
<text class="tk" x="447.2" y="408.57">400</text>
<text class="tk" x="447.2" y="404.05">500</text>
<rect x="453" y="429.48" width="173.7" height="25.40" fill="rgb(215,199,226)"/>
<rect x="498" y="430.48" width="3" height="24.40" fill="#ff0000"/>
<rect x="501" y="437.00" width="1" height="17.88" fill="#ff0000"/>
<rect x="461" y="453.08" width="158" height="1.8" fill="#ff0000" fill-opacity="0.5"/>
<rect x="453" y="429.48" width="173.7" height="1" fill="#000" fill-opacity="0.55"/>
<rect x="453" y="453.88" width="173.7" height="1" fill="#000" fill-opacity="0.55"/>
<rect x="453" y="430.48" width="1" height="23.40" fill="#000" fill-opacity="0.45"/>
<rect x="625.7" y="430.48" width="1" height="23.40" fill="#000" fill-opacity="0.45"/>
<rect x="453" y="429.48" width="1" height="1" fill="#000" fill-opacity="0.25"/>
<rect x="453" y="453.88" width="1" height="1" fill="#000" fill-opacity="0.25"/>
<text class="tk" x="447.2" y="455.28">0</text>
<text class="tk" x="447.2" y="449.08">5</text>
<text class="tk" x="447.2" y="442.88">10</text>
<text class="tk" x="447.2" y="436.68">15</text>
<rect x="453" y="458.11" width="173.7" height="25.40" fill="rgb(215,199,226)"/>
<rect x="498" y="459.11" width="3" height="24.40" fill="#ff0000"/>
<rect x="501" y="461.00" width="1" height="22.51" fill="#ff0000"/>
<rect x="578" y="480.00" width="3" height="3.51" fill="#ff0000"/>
<rect x="461" y="481.71" width="158" height="1.8" fill="#ff0000" fill-opacity="0.5"/>
<rect x="453" y="458.11" width="173.7" height="1" fill="#000" fill-opacity="0.55"/>
<rect x="453" y="482.51" width="173.7" height="1" fill="#000" fill-opacity="0.55"/>
<rect x="453" y="459.11" width="1" height="23.40" fill="#000" fill-opacity="0.45"/>
<rect x="625.7" y="459.11" width="1" height="23.40" fill="#000" fill-opacity="0.45"/>
<rect x="453" y="458.11" width="1" height="1" fill="#000" fill-opacity="0.25"/>
<rect x="453" y="482.51" width="1" height="1" fill="#000" fill-opacity="0.25"/>
<text class="tk" x="447.2" y="483.91">0</text>
<text class="tk" x="447.2" y="479.15">25</text>
<text class="tk" x="447.2" y="474.39">50</text>
<text class="tk" x="447.2" y="469.63">75</text>
<text class="tk" x="447.2" y="464.87">100</text>
<text class="tk" x="447.2" y="460.11">125</text>
<rect x="453" y="486.74" width="173.7" height="25.40" fill="rgb(209,209,209)"/>
<rect x="453" y="486.74" width="173.7" height="1" fill="#000" fill-opacity="0.55"/>
<rect x="453" y="511.14" width="173.7" height="1" fill="#000" fill-opacity="0.55"/>
<rect x="453" y="487.74" width="1" height="23.40" fill="#000" fill-opacity="0.45"/>
<rect x="625.7" y="487.74" width="1" height="23.40" fill="#000" fill-opacity="0.45"/>
<rect x="453" y="486.74" width="1" height="1" fill="#000" fill-opacity="0.25"/>
<rect x="453" y="511.14" width="1" height="1" fill="#000" fill-opacity="0.25"/>
<text class="tk" x="447.2" y="512.54">0</text>
<text class="tk" x="447.2" y="508.02">100</text>
<text class="tk" x="447.2" y="503.50">200</text>
<text class="tk" x="447.2" y="498.98">300</text>
<text class="tk" x="447.2" y="494.46">400</text>
<text class="tk" x="447.2" y="489.94">500</text>
<rect x="453" y="515.38" width="173.7" height="25.40" fill="rgb(209,209,209)"/>
<rect x="453" y="515.38" width="173.7" height="1" fill="#000" fill-opacity="0.55"/>
<rect x="453" y="539.78" width="173.7" height="1" fill="#000" fill-opacity="0.55"/>
<rect x="453" y="516.38" width="1" height="23.40" fill="#000" fill-opacity="0.45"/>
<rect x="625.7" y="516.38" width="1" height="23.40" fill="#000" fill-opacity="0.45"/>
<rect x="453" y="515.38" width="1" height="1" fill="#000" fill-opacity="0.25"/>
<rect x="453" y="539.78" width="1" height="1" fill="#000" fill-opacity="0.25"/>
<text class="tk" x="447.2" y="541.18">0</text>
<text class="tk" x="447.2" y="536.66">100</text>
<text class="tk" x="447.2" y="532.14">200</text>
<text class="tk" x="447.2" y="527.62">300</text>
<text class="tk" x="447.2" y="523.10">400</text>
<text class="tk" x="447.2" y="518.58">500</text>
<rect x="453" y="544.01" width="173.7" height="25.40" fill="rgb(209,209,209)"/>
<rect x="453" y="544.01" width="173.7" height="1" fill="#000" fill-opacity="0.55"/>
<rect x="453" y="568.41" width="173.7" height="1" fill="#000" fill-opacity="0.55"/>
<rect x="453" y="545.01" width="1" height="23.40" fill="#000" fill-opacity="0.45"/>
<rect x="625.7" y="545.01" width="1" height="23.40" fill="#000" fill-opacity="0.45"/>
<rect x="453" y="544.01" width="1" height="1" fill="#000" fill-opacity="0.25"/>
<rect x="453" y="568.41" width="1" height="1" fill="#000" fill-opacity="0.25"/>
<text class="tk" x="447.2" y="569.81">0</text>
<text class="tk" x="447.2" y="565.29">100</text>
<text class="tk" x="447.2" y="560.77">200</text>
<text class="tk" x="447.2" y="556.25">300</text>
<text class="tk" x="447.2" y="551.73">400</text>
<text class="tk" x="447.2" y="547.21">500</text>
<rect x="453" y="572.64" width="173.7" height="25.40" fill="rgb(209,209,209)"/>
<rect x="453" y="572.64" width="173.7" height="1" fill="#000" fill-opacity="0.55"/>
<rect x="453" y="597.04" width="173.7" height="1" fill="#000" fill-opacity="0.55"/>
<rect x="453" y="573.64" width="1" height="23.40" fill="#000" fill-opacity="0.45"/>
<rect x="625.7" y="573.64" width="1" height="23.40" fill="#000" fill-opacity="0.45"/>
<rect x="453" y="572.64" width="1" height="1" fill="#000" fill-opacity="0.25"/>
<rect x="453" y="597.04" width="1" height="1" fill="#000" fill-opacity="0.25"/>
<text class="tk" x="447.2" y="598.44">0</text>
<text class="tk" x="447.2" y="593.92">100</text>
<text class="tk" x="447.2" y="589.40">200</text>
<text class="tk" x="447.2" y="584.88">300</text>
<text class="tk" x="447.2" y="580.36">400</text>
<text class="tk" x="447.2" y="575.84">500</text>
<rect x="453" y="601.27" width="173.7" height="15.73" fill="rgb(209,209,209)"/>
<rect x="453" y="601.27" width="173.7" height="1" fill="#000" fill-opacity="0.55"/>
<rect x="453" y="616.00" width="173.7" height="1" fill="#000" fill-opacity="0.55"/>
<rect x="453" y="602.27" width="1" height="13.73" fill="#000" fill-opacity="0.45"/>
<rect x="625.7" y="602.27" width="1" height="13.73" fill="#000" fill-opacity="0.45"/>
<rect x="453" y="601.27" width="1" height="1" fill="#000" fill-opacity="0.25"/>
<rect x="453" y="616.00" width="1" height="1" fill="#000" fill-opacity="0.25"/>
<text class="tk" x="447.2" y="617.40">0</text>
<text class="tk" x="447.2" y="614.50">100</text>
<text class="tk" x="447.2" y="611.60">200</text>
<text class="tk" x="447.2" y="608.70">300</text>
<text class="tk" x="447.2" y="605.80">400</text>
<text class="tk" x="447.2" y="602.90">500</text>
<text class="ax" x="461.00" y="628">0</text>
<text class="ax" x="500.25" y="628">5kb</text>
<text class="ax" x="539.50" y="628">10kb</text>
<text class="ax" x="578.75" y="628">15kb</text>
<text class="ax" x="618.00" y="628">20kb</text>
</svg></body></html>
